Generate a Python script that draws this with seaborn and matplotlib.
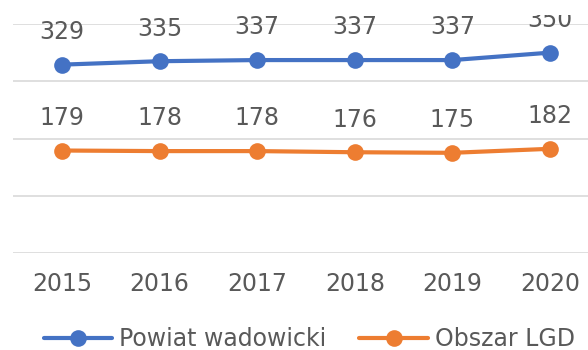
import matplotlib
matplotlib.use("Agg")
import matplotlib.pyplot as plt
from matplotlib.patches import Rectangle
import seaborn as sns
import pandas as pd

years = ["2015", "2016", "2017", "2018", "2019", "2020"]
powiat = [329, 335, 337, 337, 337, 350]
lgd = [179, 178, 178, 176, 175, 182]
series_names = ["Powiat wadowicki", "Obszar LGD"]
colors = ["#4472C4", "#ED7D31"]

sns.set_theme(style="white")
plt.rcParams["font.family"] = ["DejaVu Sans"]
text_color = "#595959"
fs = 17

df = pd.DataFrame({
    "pos": list(range(len(years))) * 2,
    "value": powiat + lgd,
    "series": [series_names[0]] * len(years) + [series_names[1]] * len(years),
})

fig = plt.figure(figsize=(5.88, 3.5), dpi=100)
ax = fig.add_axes([13 / 588, 97 / 350, 586 / 588, 229 / 350])

sns.lineplot(data=df, x="pos", y="value", hue="series", hue_order=series_names,
             palette=colors, marker="o", markersize=12, markeredgewidth=0,
             linewidth=3.0, ax=ax)

for name, vals, c in zip(series_names, [powiat, lgd], colors):
    for i, v in enumerate(vals):
        ax.annotate(str(v), (i, v), xytext=(0, 23.5), textcoords="offset points",
                    ha="center", va="center", fontsize=fs, color=text_color,
                    annotation_clip=False)

ax.set_xlim(-0.5, len(years) - 0.5)
ax.set_ylim(0, 400)
ax.set_yticks([0, 100, 200, 300, 400])
ax.set_yticklabels([])
ax.tick_params(axis="y", length=0)
ax.set_xticks(range(len(years)))
ax.set_xticklabels(years, fontsize=fs, color=text_color)
ax.tick_params(axis="x", length=0, pad=14)
ax.grid(axis="y", color="#d9d9d9", linewidth=1.2)
ax.grid(axis="x", visible=False)
for s in ax.spines.values():
    s.set_visible(False)
ax.set_xlabel("")
ax.set_ylabel("")

handles, labels = ax.get_legend_handles_labels()
ax.get_legend().remove()
leg = fig.legend(handles, labels, loc="center", bbox_to_anchor=(0.526, 0.032),
                 ncol=2, frameon=False, fontsize=fs, handlelength=2.9,
                 columnspacing=1.4, handletextpad=0.3)
for t in leg.get_texts():
    t.set_color(text_color)

# white band along the top edge of the chart area
fig.add_artist(Rectangle((0, 1 - 15 / 350), 1, 15 / 350, transform=fig.transFigure,
                         facecolor="white", edgecolor="none", zorder=10))

fig.savefig("out.png", dpi=100)
